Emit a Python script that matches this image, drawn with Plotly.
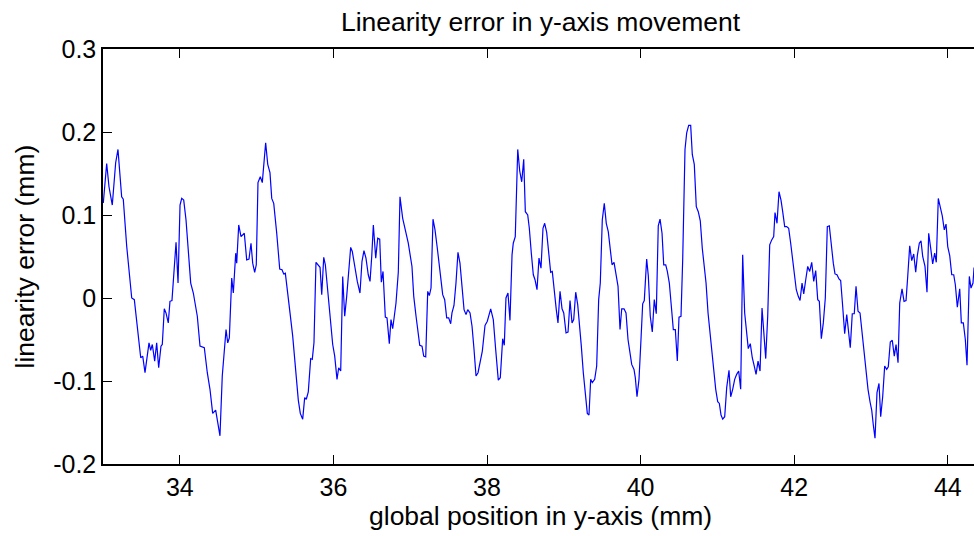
import plotly.graph_objects as go

position_mm = [
    33.004, 33.048, 33.078, 33.121, 33.165, 33.195, 33.243, 33.264, 33.309, 33.374,
    33.408, 33.439, 33.491, 33.517, 33.547, 33.599, 33.621, 33.642, 33.673, 33.699,
    33.725, 33.755, 33.772, 33.798, 33.820, 33.850, 33.872, 33.898, 33.951, 33.977,
    34.003, 34.025, 34.051, 34.081, 34.142, 34.176, 34.228, 34.263, 34.319, 34.358,
    34.393, 34.428, 34.467, 34.523, 34.553, 34.602, 34.624, 34.645, 34.676, 34.697,
    34.728, 34.741, 34.767, 34.797, 34.840, 34.871, 34.901,
    34.927, 34.949, 34.975, 34.996, 35.018, 35.048, 35.074, 35.096, 35.118, 35.145,
    35.174, 35.197, 35.223, 35.262, 35.301, 35.331, 35.353, 35.374, 35.400, 35.435,
    35.470, 35.500, 35.543, 35.569, 35.600, 35.626, 35.647, 35.673, 35.704, 35.725,
    35.747, 35.773, 35.803, 35.826, 35.848, 35.874, 35.895, 35.926, 35.947, 35.991,
    36.017, 36.047, 36.069, 36.095, 36.121, 36.147, 36.173, 36.199, 36.225, 36.246,
    36.281, 36.311, 36.346, 36.372, 36.398, 36.424, 36.454, 36.477, 36.499, 36.520,
    36.551, 36.577, 36.603, 36.624, 36.646, 36.676, 36.698, 36.728,
    36.750, 36.772, 36.815, 36.845, 36.867, 36.902, 36.936, 36.975, 37.023, 37.046,
    37.076, 37.098, 37.124, 37.154, 37.176, 37.202, 37.228, 37.249, 37.271, 37.297,
    37.323, 37.353, 37.397, 37.423, 37.449, 37.475, 37.501, 37.527, 37.544, 37.570,
    37.596, 37.622, 37.648, 37.674, 37.701, 37.727, 37.749, 37.779, 37.805, 37.831,
    37.857, 37.883, 37.909, 37.939, 37.974, 38.004, 38.048, 38.082, 38.113, 38.147,
    38.173, 38.204, 38.225, 38.247, 38.273, 38.299, 38.326, 38.342, 38.368, 38.400,
    38.426, 38.452, 38.478, 38.499, 38.530,
    38.551, 38.577, 38.603, 38.625, 38.651, 38.677, 38.703, 38.729, 38.751, 38.777,
    38.803, 38.829, 38.850, 38.876, 38.902, 38.924, 38.951, 38.977, 38.999, 39.029,
    39.055, 39.081, 39.107, 39.129, 39.155, 39.181, 39.207, 39.228, 39.254, 39.280,
    39.306, 39.328, 39.350, 39.371, 39.402, 39.428, 39.454, 39.475, 39.501, 39.527,
    39.553, 39.579, 39.602, 39.628, 39.654, 39.680, 39.706, 39.732, 39.754, 39.784,
    39.810, 39.836, 39.862, 39.884, 39.914, 39.931, 39.953, 39.979, 40.005, 40.027,
    40.048, 40.079, 40.100, 40.126, 40.152, 40.178, 40.204, 40.230, 40.253, 40.279,
    40.301, 40.327, 40.348, 40.374,
    40.400, 40.426, 40.452, 40.478, 40.500, 40.526, 40.548, 40.578, 40.600, 40.626,
    40.652, 40.673, 40.699, 40.725, 40.751, 40.777, 40.803, 40.829, 40.852, 40.878,
    40.904, 40.930, 40.956, 40.978, 41.004, 41.025, 41.047, 41.069, 41.095, 41.121,
    41.151, 41.173, 41.199, 41.225, 41.251, 41.277, 41.303, 41.329, 41.355, 41.382,
    41.402, 41.428, 41.454, 41.480, 41.503, 41.529, 41.555, 41.581, 41.607, 41.629,
    41.655, 41.681, 41.707, 41.733, 41.750, 41.776, 41.802, 41.828, 41.850, 41.876,
    41.902, 41.928, 41.954, 41.980, 42.006, 42.027, 42.053, 42.076, 42.102, 42.124,
    42.150, 42.176, 42.202,
    42.228, 42.254, 42.280, 42.306, 42.327, 42.353, 42.379, 42.405, 42.431, 42.457,
    42.483, 42.509, 42.531, 42.557, 42.583, 42.605, 42.631, 42.657, 42.684, 42.710,
    42.730, 42.756, 42.782, 42.805, 42.831, 42.857, 42.883, 42.909, 42.935, 42.961,
    42.987, 43.009, 43.030, 43.052, 43.078, 43.104, 43.126, 43.152, 43.178, 43.204,
    43.225, 43.251, 43.277, 43.303, 43.326, 43.352, 43.374, 43.404, 43.430, 43.456,
    43.478, 43.504, 43.530, 43.556, 43.582, 43.603, 43.629, 43.651, 43.673, 43.703,
    43.729, 43.751, 43.777, 43.803, 43.829, 43.850, 43.876, 43.902, 43.928, 43.954,
    43.977, 43.999, 44.025, 44.051, 44.077, 44.098, 44.124, 44.155, 44.176, 44.202,
    44.228, 44.250, 44.280, 44.302, 44.328, 44.341, 44.370,
]

linearity_error_mm = [
    0.1145, 0.162, 0.134, 0.112, 0.163, 0.179, 0.122, 0.119, 0.062, 0.000,
    -0.002, -0.026, -0.072, -0.070, -0.090, -0.054, -0.063, -0.056, -0.076, -0.054,
    -0.084, -0.058, -0.056, -0.013, -0.018, -0.030, -0.004, -0.003, 0.067, 0.018,
    0.112, 0.120, 0.118, 0.094, 0.018, 0.006, -0.022, -0.058, -0.060, -0.090,
    -0.110, -0.139, -0.135, -0.166, -0.094, -0.038, -0.054, -0.048, 0.024, 0.006,
    0.054, 0.042, 0.088, 0.074, 0.078, 0.046, 0.047,
    0.066, 0.042, 0.031, 0.040, 0.139, 0.146, 0.139, 0.159, 0.187, 0.161,
    0.151, 0.120, 0.114, 0.078, 0.035, 0.034, 0.029, 0.030, 0.006, -0.018,
    -0.046, -0.082, -0.123, -0.139, -0.146, -0.120, -0.122, -0.113, -0.073, -0.074,
    -0.054, 0.043, 0.039, 0.037, 0.004, 0.049, 0.040, 0.006, -0.008, -0.056,
    -0.070, -0.098, -0.084, -0.088, 0.026, -0.022, 0.002, 0.030, 0.061, 0.056,
    0.034, 0.020, 0.006, 0.044, 0.057, 0.048, 0.028, 0.020, 0.050, 0.088,
    0.048, 0.072, 0.071, 0.019, 0.032, -0.023, -0.024, -0.055,
    -0.026, -0.037, -0.006, 0.031, 0.122, 0.096, 0.082, 0.066, 0.038, 0.002,
    -0.022, -0.042, -0.057, -0.058, -0.070, -0.071, 0.008, 0.003, 0.012, 0.095,
    0.082, 0.060, 0.020, 0.004, -0.002, -0.024, -0.024, -0.031, -0.018, -0.009,
    0.018, 0.055, 0.042, 0.010, -0.014, -0.020, -0.014, -0.018, -0.034, -0.062,
    -0.094, -0.090, -0.078, -0.064, -0.033, -0.028, -0.013, -0.026, -0.062, -0.099,
    -0.096, -0.049, -0.057, 0.000, 0.006, -0.027, 0.052, 0.066, 0.074, 0.179,
    0.153, 0.140, 0.167, 0.104, 0.100,
    0.084, 0.054, 0.028, 0.022, 0.010, 0.048, 0.036, 0.084, 0.090, 0.079,
    0.054, 0.031, 0.032, 0.006, -0.014, -0.030, 0.008, -0.013, -0.018, -0.042,
    -0.041, -0.003, -0.030, -0.026, 0.007, -0.008, -0.042, -0.058, -0.090, -0.120,
    -0.139, -0.141, -0.098, -0.102, -0.098, -0.082, -0.002, 0.018, 0.094, 0.114,
    0.090, 0.080, 0.058, 0.040, 0.043, 0.030, 0.014, -0.038, -0.013, -0.013,
    -0.018, -0.050, -0.066, -0.080, -0.086, -0.096, -0.119, -0.098, -0.050, -0.007,
    -0.003, 0.047, 0.027, -0.022, -0.041, -0.002, -0.019, 0.087, 0.095, 0.078,
    0.040, 0.040, 0.032, 0.018,
    -0.010, -0.038, -0.038, -0.076, -0.023, -0.022, 0.046, 0.179, 0.199, 0.208,
    0.208, 0.173, 0.161, 0.110, 0.104, 0.093, 0.060, 0.034, 0.018, -0.018,
    -0.042, -0.066, -0.090, -0.110, -0.125, -0.127, -0.141, -0.146, -0.143, -0.108,
    -0.087, -0.119, -0.110, -0.098, -0.092, -0.088, -0.110, 0.052, -0.018, -0.042,
    -0.061, -0.055, -0.072, -0.082, -0.092, -0.076, -0.088, -0.012, -0.042, -0.073,
    -0.022, 0.064, 0.070, 0.074, 0.103, 0.090, 0.128, 0.118, 0.104, 0.086,
    0.086, 0.084, 0.066, 0.046, 0.026, 0.010, 0.002, -0.003, 0.018, 0.005,
    0.022, 0.038, 0.032,
    0.043, 0.020, 0.033, -0.002, -0.004, -0.049, -0.030, 0.000, 0.086, 0.087,
    0.062, 0.042, 0.029, 0.028, 0.023, 0.021, -0.010, -0.043, -0.020, -0.042,
    -0.060, -0.019, -0.019, 0.014, -0.016, -0.018, -0.042, -0.064, -0.094, -0.110,
    -0.125, -0.135, -0.153, -0.169, -0.114, -0.103, -0.143, -0.119, -0.082, -0.086,
    -0.083, -0.053, -0.051, -0.070, -0.056, -0.078, -0.006, 0.011, -0.004, -0.003,
    0.026, 0.063, 0.045, 0.053, 0.031, 0.051, 0.066, 0.069, 0.050, 0.038,
    0.007, 0.078, 0.060, 0.041, 0.054, 0.043, 0.120, 0.108, 0.099, 0.082,
    0.089, 0.062, 0.051, 0.028, 0.028, 0.016, -0.011, 0.011, -0.030, -0.030,
    -0.050, -0.081, 0.026, 0.012, 0.018, 0.036, 0.040,
]

x_tick_values = [34, 36, 38, 40, 42, 44]
x_tick_labels = ["34", "36", "38", "40", "42", "44"]
y_tick_values = [-0.2, -0.1, 0.0, 0.1, 0.2, 0.3]
y_tick_labels = ["-0.2", "-0.1", "0", "0.1", "0.2", "0.3"]

TITLE = "Linearity error in y-axis movement"
X_TITLE = "global position in y-axis (mm)"
Y_TITLE = "linearity error (mm)"

FONT = "Liberation Sans, Arial, Helvetica, sans-serif"
LABEL_SIZE = 26.5
TICK_SIZE = 25

W, H = 974, 536
ML, MT, MB = 103, 49, 72

fig = go.Figure()
fig.add_trace(go.Scatter(
    x=position_mm, y=linearity_error_mm, mode="lines",
    line=dict(color="#0000ff", width=1.2), showlegend=False,
))

fig.update_layout(
    width=W, height=H,
    margin=dict(l=ML, r=0, t=MT, b=MB, autoexpand=False),
    paper_bgcolor="white", plot_bgcolor="white",
    font=dict(family=FONT, color="black", size=TICK_SIZE),
    title=dict(text=TITLE, x=540.5 / W, xanchor="center",
               y=1 - 22 / H, yref="container", yanchor="middle",
               font=dict(family=FONT, size=LABEL_SIZE, color="black")),
    annotations=[
        dict(text=X_TITLE, xref="paper", yref="paper", x=(540 - ML) / (W - ML), y=0,
             xanchor="center", yanchor="middle", yshift=-52, showarrow=False,
             font=dict(family=FONT, size=LABEL_SIZE, color="black")),
        dict(text=Y_TITLE, xref="paper", yref="paper", x=0, y=0.5,
             xanchor="center", yanchor="middle", xshift=-(ML - 24), textangle=-90,
             showarrow=False, font=dict(family=FONT, size=LABEL_SIZE, color="black")),
    ],
)
fig.update_xaxes(
    range=[33.0, 44.341], tickvals=x_tick_values, ticktext=x_tick_labels,
    ticks="inside", ticklen=9, tickwidth=1, tickcolor="black",
    showline=True, linecolor="black", linewidth=1.5, mirror="ticks",
    showgrid=False, zeroline=False, automargin=False,
    tickfont=dict(family=FONT, size=TICK_SIZE, color="black"),
)
fig.update_yaxes(
    range=[-0.2, 0.3], tickvals=y_tick_values, ticktext=y_tick_labels,
    ticks="inside", ticklen=9, tickwidth=1, tickcolor="black",
    showline=True, linecolor="black", linewidth=1.5, mirror=False,
    showgrid=False, zeroline=False, automargin=False,
    tickfont=dict(family=FONT, size=TICK_SIZE, color="black"),
)

fig.write_html(
    "out.html",
    config={"displayModeBar": False},
    post_script="document.body.style.margin='0';document.body.style.overflow='hidden';",
)
